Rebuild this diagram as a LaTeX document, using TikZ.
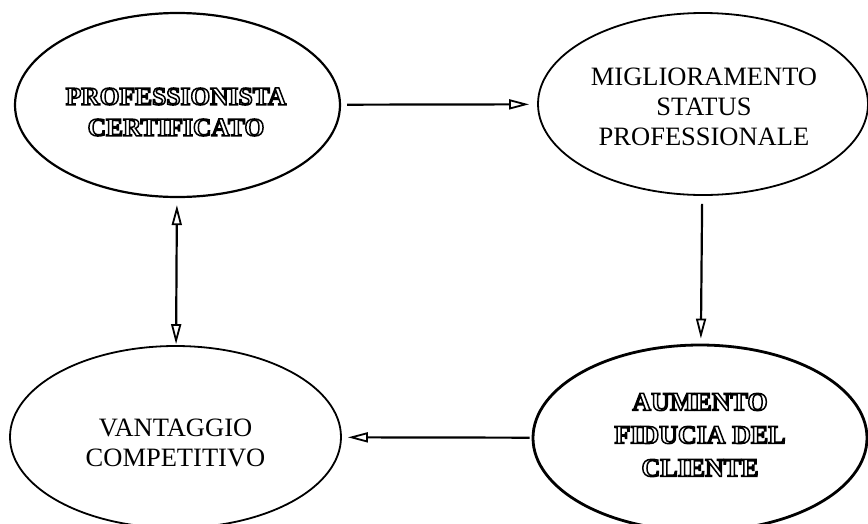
\documentclass[tikz,border=0pt]{standalone}
\usepackage{fontspec}
\setmainfont{Liberation Serif}
\usetikzlibrary{shapes.geometric,arrows.meta}
\newcommand\outl[1]{\special{pdf:literal direct q 1 Tr 1.5 w}#1\special{pdf:literal direct Q}}
\tikzset{
  bubble/.style={ellipse, draw, line width=1.8pt, inner sep=0pt},
  plaintext/.style={align=center, inner sep=0pt, font={\fontsize{26.5pt}{30pt}\selectfont}},
  hollowtext/.style={align=center, inner sep=0pt, font={\fontsize{25.5pt}{31pt}\selectfont\bfseries}},
  arr/.style={line width=2.2pt, -{Triangle[open,length=20pt,width=10pt,line width=1.8pt]}},
  dblarr/.style={line width=2.2pt, {Triangle[open,length=20pt,width=10pt,line width=1.8pt]}-{Triangle[open,length=20pt,width=10pt,line width=1.8pt]}}
}
\begin{document}
\begin{tikzpicture}[x=1pt,y=-1pt]
\useasboundingbox (0,0) rectangle (868,523);
\node[bubble, line width=2.2pt, minimum width=325pt, minimum height=184pt] (tl) at (177.5,105) {};
\node[hollowtext] (tltext) at (176,112) {\outl{PROFESSIONISTA}\\\outl{CERTIFICATO}};
\node[bubble, minimum width=330pt, minimum height=182pt] (tr) at (703,104) {};
\node[plaintext] (trtext) at (704,107) {MIGLIORAMENTO\\STATUS\\PROFESSIONALE};
\node[bubble, line width=2.8pt, minimum width=334pt, minimum height=186pt] (br) at (700,438) {};
\node[hollowtext, font={\fontsize{26pt}{33pt}\selectfont\bfseries}] (brtext) at (700,435)
  {\outl{AUMENTO}\\\outl{FIDUCIA DEL}\\\outl{CLIENTE}};
\node[bubble, minimum width=331pt, minimum height=182pt] (bl) at (175.5,437) {};
\node[plaintext] (bltext) at (175.5,442.5) {VANTAGGIO\\COMPETITIVO};
\draw[arr, shorten <=6pt, shorten >=8pt] (tl) -- (tr);
\draw[arr, shorten <=8pt, shorten >=5pt] (tr) -- (br);
\draw[arr, shorten <=2pt, shorten >=6pt] (br) -- (bl);
\draw[dblarr, shorten <=7pt, shorten >=1pt] (tl) -- (bl);
\end{tikzpicture}
\end{document}
